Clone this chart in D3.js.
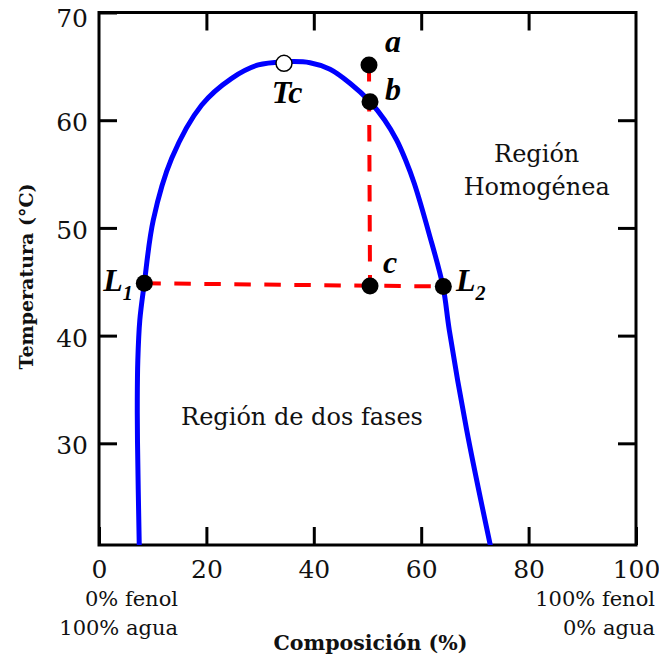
<!DOCTYPE html>
<html>
<head>
<meta charset="utf-8">
<script src="https://cdn.jsdelivr.net/npm/d3@7"></script>
<style>
  html, body { margin: 0; padding: 0; background: #fff; }
  svg { display: block; }
</style>
</head>
<body>
<svg id="chart" width="659" height="659"></svg>
<script>
// ---- data ----
const xTicks = [0, 20, 40, 60, 80, 100];
const yTicks = [30, 40, 50, 60, 70];
const curveComp = [7.50, 7.17, 7.13, 7.23, 7.60, 8.44, 10.11, 13.54, 19.13, 24.71, 29.66, 34.45, 39.29, 43.02, 46.74, 50.47, 53.18, 55.42, 57.09, 58.70, 61.45, 64.06, 65.23, 68.47, 72.93];
const curveTemp = [20.40, 30.12, 34.02, 37.73, 41.44, 44.86, 50.73, 56.46, 61.41, 63.89, 65.13, 65.42, 65.34, 64.73, 63.43, 61.72, 60.02, 58.16, 56.30, 54.14, 49.50, 44.56, 40.52, 31.24, 20.40];
const pointNames = ["a", "b", "c", "L1", "L2"];
const pointComp = [50.28, 50.47, 50.47, 8.44, 64.12];
const pointTemp = [65.12, 61.72, 44.61, 44.86, 44.56];
const criticalComp = 34.45;
const criticalTemp = 65.28;

// ---- layout ----
const svg = d3.select("#chart");
const x = d3.scaleLinear().domain([0, 100]).range([99, 636]);
const y = d3.scaleLinear().domain([20.56, 70]).range([545, 12.5]);
const serif = "'DejaVu Serif', serif";
const mathFont = "'Liberation Serif', 'DejaVu Serif', serif";

svg.append("clipPath").attr("id", "plotclip")
  .append("rect").attr("x", x(0)).attr("y", y(70)).attr("width", x(100) - x(0)).attr("height", y(20.56) - y(70));

// axes
function styleAxis(g) {
  g.select(".domain").remove();
  g.selectAll(".tick line").attr("stroke", "#000").attr("stroke-width", 3);
  g.selectAll(".tick text").attr("font-family", serif).attr("font-size", 25).attr("fill", "#111");
}
svg.append("g").attr("transform", `translate(${x(0)},0)`)
  .call(d3.axisLeft(y).tickValues(yTicks).tickSizeInner(-18).tickSizeOuter(0).tickPadding(11).tickFormat(d3.format("d")))
  .call(styleAxis)
  .call(g => g.selectAll(".tick text").attr("transform", d => `translate(0,${d === 70 ? 6 : 2.5})`));
svg.append("g").attr("transform", `translate(${x(100)},0)`)
  .call(d3.axisRight(y).tickValues([30, 40, 50, 60]).tickSizeInner(-18).tickSizeOuter(0).tickFormat(""))
  .call(styleAxis);
svg.append("g").attr("transform", `translate(0,${y(20.56)})`)
  .call(d3.axisBottom(x).tickValues(xTicks).tickSizeInner(-18).tickSizeOuter(0).tickPadding(15).tickFormat(d3.format("d")))
  .call(styleAxis);
svg.append("g").attr("transform", `translate(0,${y(70)})`)
  .call(d3.axisTop(x).tickValues([20, 40, 60, 80]).tickSizeInner(-18).tickSizeOuter(0).tickFormat(""))
  .call(styleAxis);

svg.append("rect")
  .attr("x", x(0)).attr("y", y(70))
  .attr("width", x(100) - x(0)).attr("height", y(20.56) - y(70))
  .attr("fill", "none").attr("stroke", "#000").attr("stroke-width", 3);

// curve
const curveData = curveComp.map((c, i) => [c, curveTemp[i]]);
svg.append("path")
  .datum(curveData)
  .attr("clip-path", "url(#plotclip)")
  .attr("d", d3.line().x(d => x(d[0])).y(d => y(d[1])).curve(d3.curveCatmullRom.alpha(0.5)))
  .attr("fill", "none").attr("stroke", "#0000ff").attr("stroke-width", 5);

// dashed lines
const P = {};
pointNames.forEach((n, i) => P[n] = [pointComp[i], pointTemp[i]]);
const dashLine = d3.line().x(d => x(d[0])).y(d => y(d[1]));
svg.append("path").datum([P.a, P.c])
  .attr("d", dashLine).attr("fill", "none").attr("stroke", "#ff0000")
  .attr("stroke-width", 4).attr("stroke-dasharray", "16.5,13.5");
svg.append("path").datum([P.L1, P.L2])
  .attr("d", dashLine).attr("fill", "none").attr("stroke", "#ff0000")
  .attr("stroke-width", 4).attr("stroke-dasharray", "16.5,13.5");

// points
svg.selectAll("circle.pt").data(pointNames).enter().append("circle")
  .attr("class", "pt")
  .attr("cx", n => x(P[n][0])).attr("cy", n => y(P[n][1]))
  .attr("r", 8.5).attr("fill", "#000");
svg.append("circle")
  .attr("cx", x(criticalComp)).attr("cy", y(criticalTemp))
  .attr("r", 8).attr("fill", "#fff").attr("stroke", "#000").attr("stroke-width", 1.5);

// point labels
const labelOffset = { a: [16, -13.3], b: [15, -1.7], c: [13, -12.7], L1: [-41, 7.7], L2: [12.7, 4] };
pointNames.forEach(n => {
  const t = svg.append("text")
    .attr("x", x(P[n][0]) + labelOffset[n][0])
    .attr("y", y(P[n][1]) + labelOffset[n][1])
    .attr("font-family", mathFont).attr("font-weight", "bold").attr("font-style", "italic")
    .attr("font-size", 32).attr("fill", "#000");
  if (n.length > 1) {
    t.append("tspan").text(n[0]);
    t.append("tspan").attr("font-size", 20).attr("dy", 9).text(n.slice(1));
  } else {
    t.text(n);
  }
});
svg.append("text")
  .attr("x", x(criticalComp) - 12.3).attr("y", y(criticalTemp) + 39.7)
  .attr("font-family", mathFont).attr("font-weight", "bold").attr("font-style", "italic")
  .attr("font-size", 32).attr("fill", "#000").text("Tc");

// region labels
const regionText = svg.append("text")
  .attr("font-family", serif).attr("font-size", 24).attr("fill", "#111").attr("text-anchor", "middle");
regionText.append("tspan").attr("x", 536.7).attr("y", 161.7).text("Región");
regionText.append("tspan").attr("x", 536.7).attr("y", 195).text("Homogénea");
svg.append("text")
  .attr("x", 302).attr("y", 425)
  .attr("font-family", serif).attr("font-size", 24).attr("fill", "#111").attr("text-anchor", "middle")
  .text("Región de dos fases");

// composition end labels
const endLabels = [
  { t: "0% fenol", x: 178, y: 606 },
  { t: "100% agua", x: 178, y: 635 },
  { t: "100% fenol", x: 655, y: 606 },
  { t: "0% agua", x: 655, y: 635 }
];
svg.selectAll("text.end").data(endLabels).enter().append("text")
  .attr("class", "end")
  .attr("x", d => d.x).attr("y", d => d.y)
  .attr("text-anchor", "end")
  .attr("font-family", serif).attr("font-size", 21).attr("fill", "#111")
  .text(d => d.t);

// axis titles
svg.append("text")
  .attr("x", 370.5).attr("y", 650)
  .attr("text-anchor", "middle")
  .attr("font-family", serif).attr("font-weight", "bold").attr("font-size", 20.5).attr("fill", "#111")
  .text("Composición (%)");
svg.append("text")
  .attr("transform", "translate(32.5,276.5) rotate(-90)")
  .attr("text-anchor", "middle")
  .attr("font-family", serif).attr("font-weight", "bold").attr("font-size", 19).attr("fill", "#111")
  .text("Temperatura (°C)");
</script>
</body>
</html>
